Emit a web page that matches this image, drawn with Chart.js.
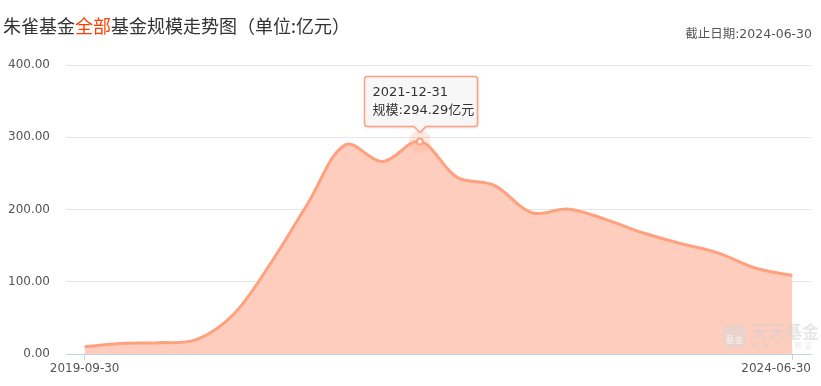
<!DOCTYPE html>
<html>
<head>
<meta charset="utf-8">
<script src="https://cdn.jsdelivr.net/npm/chart.js@4.4.1/dist/chart.umd.min.js"></script>
<style>
  html, body { margin: 0; padding: 0; background: #fff; }
  #wrap { width: 821px; height: 386px; position: relative; }
</style>
</head>
<body>
<div id="wrap"><canvas id="scaleChart" width="821" height="386"></canvas></div>
<script>
// quarterly fund size, 亿元
const dates = [
    '2019-09-30', '2019-12-31', '2020-03-31', '2020-06-30', '2020-09-30',
    '2020-12-31', '2021-03-31', '2021-06-30', '2021-09-30', '2021-12-31',
    '2022-03-31', '2022-06-30', '2022-09-30', '2022-12-31', '2023-03-31',
    '2023-06-30', '2023-09-30', '2023-12-31', '2024-03-31', '2024-06-30'
];
const sizes = [
    10.2, 14.6, 15.6, 19.8, 55.0,
    126.0, 209.0, 289.5, 266.5, 294.29,
    244.5, 233.5, 195.5, 200.5, 186.0,
    167.5, 153.0, 140.0, 119.0, 108.5
];
const yTicks = [0, 100, 200, 300, 400];
const highlightIndex = 9;

const lineColor = '#ffa07e';
const fillColor = '#ffcdbd';
const mixFont = '"DejaVu Sans", "Noto Sans CJK SC", sans-serif';

// title + date note
const titlePlugin = {
    id: 'titlePlugin',
    afterDraw(chart) {
        const ctx = chart.ctx;
        ctx.save();
        ctx.font = '18px "Noto Sans CJK SC", sans-serif';
        ctx.textBaseline = 'alphabetic';
        ctx.textAlign = 'left';
        const parts = [['朱雀基金', '#333'], ['全部', '#ff3d00'], ['基金规模走势图（单位:亿元）', '#333']];
        let x = 3;
        parts.forEach(p => {
            ctx.fillStyle = p[1];
            ctx.fillText(p[0], x, 33);
            x += ctx.measureText(p[0]).width;
        });
        ctx.font = '12.5px ' + mixFont;
        ctx.fillStyle = '#555';
        ctx.textAlign = 'right';
        ctx.fillText('截止日期:2024-06-30', 812, 38);
        ctx.restore();
    }
};

// first / last x labels, the last one kept inside the canvas
const xLabelPlugin = {
    id: 'xLabelPlugin',
    afterDraw(chart) {
        const ctx = chart.ctx;
        const xs = chart.scales.x;
        ctx.save();
        ctx.font = '12px "DejaVu Sans", sans-serif';
        ctx.fillStyle = '#555';
        ctx.textBaseline = 'middle';
        ctx.textAlign = 'center';
        ctx.fillText(dates[0], xs.getPixelForValue(0), 369);
        ctx.textAlign = 'right';
        ctx.fillText(dates[dates.length - 1], chart.chartArea.right, 369);
        ctx.restore();
    }
};

// watermark bottom right
const watermarkPlugin = {
    id: 'watermarkPlugin',
    afterDatasetsDraw(chart) {
        const ctx = chart.ctx;
        ctx.save();
        ctx.globalAlpha = 0.5;
        ctx.fillStyle = '#d5d5d5';
        ctx.beginPath();
        ctx.roundRect(723, 325, 23, 23, 5);
        ctx.fill();
        ctx.fillStyle = '#fff';
        ctx.font = 'bold 9px "Noto Sans CJK SC", sans-serif';
        ctx.textAlign = 'center';
        ctx.textBaseline = 'middle';
        ctx.fillText('基金', 734.5, 340);
        ctx.fillStyle = '#cfcfcf';
        ctx.font = 'bold 17px "Noto Sans CJK SC", serif';
        ctx.textAlign = 'left';
        ctx.fillText('天天基金', 751, 332);
        ctx.font = '7px "Noto Sans CJK SC", sans-serif';
        const small = '链接您与财富';
        for (let i = 0; i < small.length; i++) {
            ctx.fillText(small[i], 752 + i * 10.6, 345);
        }
        ctx.restore();
    }
};

// fixed tooltip on the highlighted quarter
const tipPlugin = {
    id: 'tipPlugin',
    afterDraw(chart) {
        const pt = chart.getDatasetMeta(0).data[highlightIndex];
        if (!pt) return;
        const ctx = chart.ctx;
        ctx.save();
        // halo + dot
        ctx.fillStyle = 'rgba(255,160,126,0.22)';
        ctx.beginPath();
        ctx.arc(pt.x, pt.y, 11, 0, Math.PI * 2);
        ctx.fill();
        ctx.fillStyle = '#fff';
        ctx.strokeStyle = lineColor;
        ctx.lineWidth = 2;
        ctx.beginPath();
        ctx.arc(pt.x, pt.y, 3, 0, Math.PI * 2);
        ctx.fill();
        ctx.stroke();

        const w = 113, h = 50;
        const left = Math.round(pt.x - 56) + 0.5, bottom = Math.round(pt.y - 15) + 0.5;
        const top = bottom - h;
        ctx.shadowColor = 'rgba(0,0,0,0.15)';
        ctx.shadowBlur = 3;
        ctx.shadowOffsetX = 1;
        ctx.shadowOffsetY = 1;
        ctx.fillStyle = '#f7f7f7';
        ctx.strokeStyle = '#ff9f7f';
        ctx.lineWidth = 1.5;
        ctx.beginPath();
        ctx.moveTo(left + 3, top);
        ctx.lineTo(left + w - 3, top);
        ctx.quadraticCurveTo(left + w, top, left + w, top + 3);
        ctx.lineTo(left + w, bottom - 3);
        ctx.quadraticCurveTo(left + w, bottom, left + w - 3, bottom);
        ctx.lineTo(pt.x + 6, bottom);
        ctx.lineTo(pt.x, bottom + 6);
        ctx.lineTo(pt.x - 6, bottom);
        ctx.lineTo(left + 3, bottom);
        ctx.quadraticCurveTo(left, bottom, left, bottom - 3);
        ctx.lineTo(left, top + 3);
        ctx.quadraticCurveTo(left, top, left + 3, top);
        ctx.closePath();
        ctx.fill();
        ctx.shadowColor = 'transparent';
        ctx.stroke();

        ctx.fillStyle = '#333';
        ctx.font = '13px ' + mixFont;
        ctx.textAlign = 'left';
        ctx.textBaseline = 'middle';
        ctx.fillText(dates[highlightIndex], left + 8, top + 16);
        ctx.fillText('规模:' + sizes[highlightIndex].toFixed(2) + '亿元', left + 8, top + 34);
        ctx.restore();
    }
};

const ctx = document.getElementById('scaleChart').getContext('2d');
new Chart(ctx, {
    type: 'line',
    data: {
        labels: dates,
        datasets: [{
            label: '规模',
            data: sizes,
            borderColor: lineColor,
            backgroundColor: fillColor,
            borderWidth: 3,
            fill: 'origin',
            tension: 0.35,
            pointRadius: 0,
            pointHoverRadius: 0
        }]
    },
    options: {
        responsive: false,
        animation: false,
        events: [],
        layout: { padding: { left: 0, right: 10, top: 65, bottom: 0 } },
        plugins: {
            legend: { display: false },
            tooltip: { enabled: false }
        },
        scales: {
            x: {
                offset: true,
                afterFit: s => { s.height = 32; },
                border: { display: true, color: '#c6d2ec', width: 1 },
                grid: {
                    offset: false,
                    drawOnChartArea: false,
                    tickLength: 6,
                    color: c => (c.index === 0 || c.index === dates.length - 1) ? '#c6d2ec' : 'transparent'
                },
                ticks: { display: false, autoSkip: false }
            },
            y: {
                min: 0,
                max: 400,
                afterFit: s => { s.width = 66; },
                afterBuildTicks: s => { s.ticks = yTicks.map(v => ({ value: v })); },
                border: { display: false },
                grid: { color: '#e6e6e6', drawTicks: false },
                ticks: {
                    padding: 16,
                    color: '#555',
                    font: { size: 12, family: '"DejaVu Sans", sans-serif' },
                    callback: v => Number(v).toFixed(2)
                }
            }
        }
    },
    plugins: [titlePlugin, xLabelPlugin, watermarkPlugin, tipPlugin]
});
</script>
</body>
</html>
